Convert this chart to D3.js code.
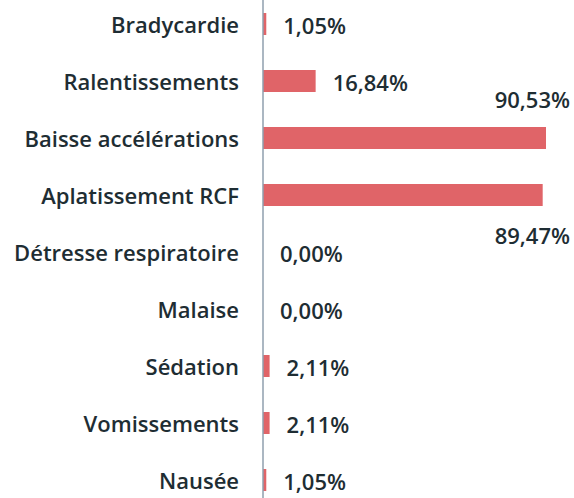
<!DOCTYPE html>
<html lang="fr">
<head>
<meta charset="UTF-8">
<script src="https://d3js.org/d3.v7.min.js"></script>
<style>
    body { margin: 0; background: #fff; }
    text { font-family: "Open Sans", "Noto Sans", sans-serif; fill: #1e2d33; font-weight: 600; }
</style>
</head>
<body>
<svg id="chart" width="574" height="498"></svg>
<script>
    // data
    var categories = ["Bradycardie", "Ralentissements", "Baisse accélérations", "Aplatissement RCF",
        "Détresse respiratoire", "Malaise", "Sédation", "Vomissements", "Nausée"];
    var values = [1.05, 16.84, 90.53, 89.47, 0.00, 0.00, 2.11, 2.11, 1.05];

    var width = 574, height = 498;
    var axisX = 263;

    var svg = d3.select("#chart");

    var x = d3.scaleLinear().domain([0, 100]).range([axisX, axisX + 312.6]);
    var y = d3.scalePoint().domain(categories).range([24, 480]);
    var barH = 22;

    var fr = d3.formatLocale({decimal: ",", thousands: " ", grouping: [3], currency: ["", "€"]});
    var fmt = fr.format(".2f");

    var rows = categories.map(function(c, i){ return {cat: c, val: values[i], i: i}; });

    // category labels
    svg.append("g").selectAll("text")
        .data(rows)
        .enter().append("text")
        .attr("x", 239)
        .attr("y", function(d){ return y(d.cat) + 1; })
        .attr("dy", "0.35em")
        .attr("text-anchor", "end")
        .style("font-size", "22px")
        .text(function(d){ return d.cat; });

    // bars
    svg.append("g").selectAll("rect")
        .data(rows)
        .enter().append("rect")
        .attr("x", x(0))
        .attr("y", function(d){ return y(d.cat) - barH / 2; })
        .attr("width", function(d){ return x(d.val) - x(0); })
        .attr("height", barH)
        .attr("fill", "#e06468");

    // axis line
    svg.append("line")
        .attr("x1", axisX).attr("x2", axisX)
        .attr("y1", 0).attr("y2", height)
        .attr("stroke", "#8f9fae")
        .attr("stroke-width", 1.5);

    // value labels (the two long bars get theirs above / below)
    svg.append("g").selectAll("text")
        .data(rows)
        .enter().append("text")
        .attr("x", function(d){ return d.val > 50 ? 570 : x(d.val) + 17; })
        .attr("y", function(d){
            if (d.val > 50) return y(d.cat) + (d.i % 2 === 0 ? -38 : 41);
            return y(d.cat) + 2;
        })
        .attr("dy", "0.35em")
        .attr("text-anchor", function(d){ return d.val > 50 ? "end" : "start"; })
        .style("font-size", "22px")
        .text(function(d){ return fmt(d.val) + "%"; });
</script>
</body>
</html>
